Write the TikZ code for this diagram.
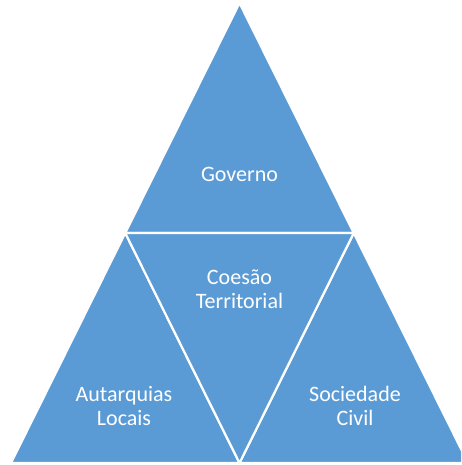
\documentclass[tikz,border=0pt]{standalone}
\usepackage{fontspec}
\setmainfont{Carlito}
\definecolor{pyrblue}{HTML}{5B9BD5}

\begin{document}
\begin{tikzpicture}[x=1pt, y=1pt,
    part/.style={fill=pyrblue, draw=white, line width=2.2pt, line join=round},
    label/.style={text=white, align=center, font=\fontsize{22}{23.5}\selectfont}]

   \useasboundingbox (0,0) rectangle (461,465);
   \clip (0,0) rectangle (461,465);

   % corners of the big triangle and midpoints of its sides
   \coordinate (top) at (239.5,462);
   \coordinate (bl) at (11,2);
   \coordinate (br) at (468,2);
   \coordinate (ml) at (125.25,232);
   \coordinate (mr) at (353.75,232);
   \coordinate (mb) at (239.5,2);

   % the four parts
   \draw[part] (top) -- (mr) -- (ml) -- cycle;
   \draw[part] (ml) -- (mb) -- (bl) -- cycle;
   \draw[part] (mr) -- (br) -- (mb) -- cycle;
   \draw[part] (ml) -- (mr) -- (mb) -- cycle;

   \node[label] (gov) at (239.5,291) {Governo};
   \node[label] (coesao) at (239.5,176) {Coesão\\Territorial};
   \node[label] (autarq) at (124,59) {Autarquias\\Locais};
   \node[label] (socied) at (355,59) {Sociedade\\Civil};
\end{tikzpicture}
\end{document}
